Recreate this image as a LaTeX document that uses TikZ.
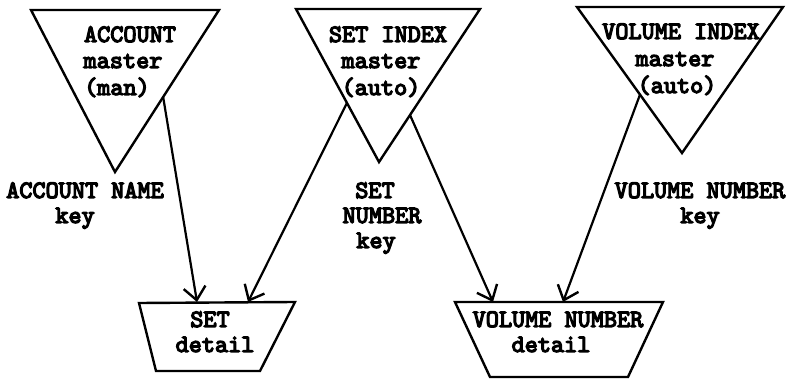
\documentclass[tikz,border=0pt]{standalone}
\usepackage{fontspec}
\setmonofont{lmmono10-regular.otf}[AutoFakeBold=5]
\usetikzlibrary{arrows.meta,calc}

\tikzset{
  shapeline/.style={line width=2.4pt, line join=miter},
  txt/.style={font=\ttfamily\bfseries\fontsize{25}{30}\selectfont, inner sep=0pt, anchor=base},
  link/.style={line width=2.2pt, -{Straight Barb[length=13pt,width=22pt,line width=2.4pt]}}
}

\begin{document}
\begin{tikzpicture}[x=1pt,y=-1pt]
  \useasboundingbox (0,0) rectangle (793,379);

  % master files (inverted triangles)
  \coordinate (t1l) at (31,10);  \coordinate (t1r) at (219,10);  \coordinate (t1b) at (115,172);
  \coordinate (t2l) at (296,9);  \coordinate (t2r) at (480,9);   \coordinate (t2b) at (379,162);
  \coordinate (t3l) at (577,7);  \coordinate (t3r) at (783,7);   \coordinate (t3b) at (682,153);
  \draw[shapeline] (t1l) -- (t1r) -- (t1b) -- cycle;
  \draw[shapeline] (t2l) -- (t2r) -- (t2b) -- cycle;
  \draw[shapeline] (t3l) -- (t3r) -- (t3b) -- cycle;

  % detail files (trapezoids)
  \coordinate (d1a) at (139,303); \coordinate (d1b) at (295,302);
  \coordinate (d1c) at (260,371); \coordinate (d1d) at (156,371);
  \coordinate (d2a) at (455,302); \coordinate (d2b) at (663,302);
  \coordinate (d2c) at (628,377); \coordinate (d2d) at (490,377);
  \draw[shapeline] (d1a) -- (d1b) -- (d1c) -- (d1d) -- cycle;
  \draw[shapeline] (d2a) -- (d2b) -- (d2c) -- (d2d) -- cycle;

  % triangle texts
  \node[txt] (accA) at (130,42) {ACCOUNT};
  \node[txt] (accB) at (123,68) {master};
  \node[txt] (accC) at (117,95) {(man)};
  \node[txt] (sixA) at (388,42) {SET INDEX};
  \node[txt] (sixB) at (381,68) {master};
  \node[txt] (sixC) at (381,95) {(auto)};
  \node[txt] (vixA) at (681,39) {VOLUME INDEX};
  \node[txt] (vixB) at (675,66) {master};
  \node[txt] (vixC) at (677,93) {(auto)};

  % trapezoid texts
  \node[txt] (setA) at (210,327) {SET};
  \node[txt] (setB) at (215,352) {detail};
  \node[txt] (volA) at (558,327) {VOLUME NUMBER};
  \node[txt] (volB) at (551,352) {detail};

  % key labels
  \node[txt] (kaA) at (85,198) {ACCOUNT NAME};
  \node[txt] (kaB) at (75,223) {key};
  \node[txt] (ksA) at (375,198) {SET};
  \node[txt] (ksB) at (382,223) {NUMBER};
  \node[txt] (ksC) at (376,248) {key};
  \node[txt] (kvA) at (700,198) {VOLUME NUMBER};
  \node[txt] (kvB) at (700,223) {key};

  % connector ends
  \coordinate (s1) at ($(t1r)!0.537!(t1b)$);
  \coordinate (s2) at ($(t2l)!0.614!(t2b)$);
  \coordinate (s3) at ($(t2r)!0.693!(t2b)$);
  \coordinate (s4) at ($(t3l)!0.60!(t3b)$);
  \coordinate (e1) at (197,302);
  \coordinate (e2) at (248,302);
  \coordinate (e3) at (493,302);
  \coordinate (e4) at (563,302);

  \draw[link] (s1) -- (e1);
  \draw[link] (s2) -- (e2);
  \draw[link] (s3) -- (e3);
  \draw[link] (s4) -- (e4);
\end{tikzpicture}
\end{document}
